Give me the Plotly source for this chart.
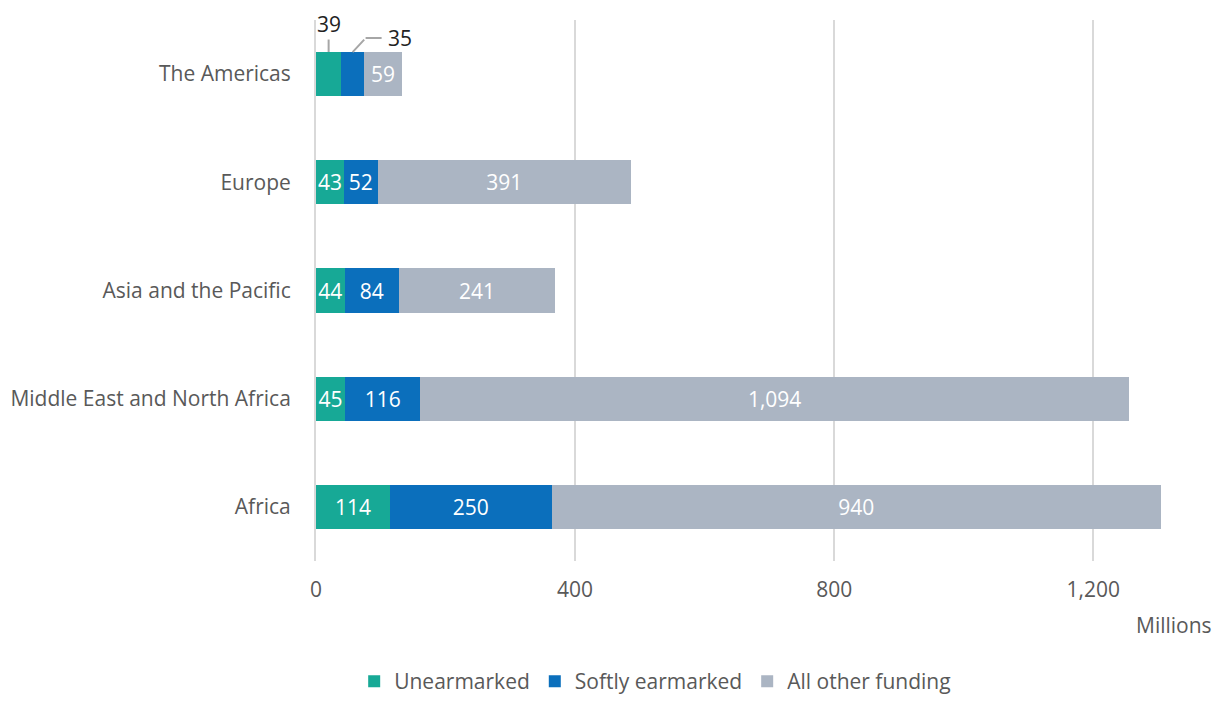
import plotly.graph_objects as go

regions = ["Africa", "Middle East and North Africa", "Asia and the Pacific", "Europe", "The Americas"]
unearmarked = [114, 45, 44, 43, 39]
softly = [250, 116, 84, 52, 35]
other = [940, 1094, 241, 391, 59]
x_ticks = [0, 400, 800, 1200]
x_tick_labels = ["0", "400", "800", "1,200"]

FONT = "Open Sans"
FS = 21
TXT = "#595959"
LEADER = "#a6a6a6"

def inside_labels(vals, skip_last=False):
    out = []
    for i, v in enumerate(vals):
        if skip_last and i == len(vals) - 1:
            out.append("")
        else:
            out.append(f"{v:,}")
    return out

fig = go.Figure()
series = [
    ("Unearmarked", unearmarked, "#17a996", True),
    ("Softly earmarked", softly, "#0b6fbc", True),
    ("All other funding", other, "#abb5c3", False),
]
for name, vals, color, skip in series:
    fig.add_trace(go.Bar(
        y=regions, x=vals, name=name, orientation="h",
        marker=dict(color=color, line=dict(width=0)),
        text=inside_labels(vals, skip), textposition="inside",
        insidetextanchor="middle", textangle=0, constraintext="none",
        insidetextfont=dict(color="white", size=FS, family=FONT),
        hoverinfo="skip",
    ))

# callout for the small Americas "Unearmarked" segment
fig.add_annotation(x=unearmarked[-1] / 2, y=regions[-1], yshift=22,
                   text=str(unearmarked[-1]), showarrow=True, arrowhead=0,
                   arrowwidth=2, arrowcolor=LEADER, ax=0, ay=-28,
                   font=dict(size=FS, family=FONT, color="#222222"))
# elbow callout for the small Americas "Softly earmarked" segment
sx = unearmarked[-1] + softly[-1] / 2
fig.add_annotation(x=sx, y=regions[-1], yshift=22, text="", showarrow=True,
                   arrowhead=0, arrowwidth=2, arrowcolor=LEADER, ax=13, ay=-14)
fig.add_annotation(x=sx, y=regions[-1], yshift=36, xshift=13,
                   text=str(softly[-1]), showarrow=True, arrowhead=0,
                   arrowwidth=2, arrowcolor=LEADER, ax=16, ay=0,
                   xanchor="left", yanchor="middle", borderpad=5,
                   font=dict(size=FS, family=FONT, color="#222222"))

fig.add_annotation(xref="paper", yref="paper", x=1, xshift=17, y=-0.118,
                   xanchor="right", yanchor="middle", showarrow=False,
                   text="Millions", font=dict(size=FS, family=FONT, color=TXT))

fig.update_layout(
    barmode="stack", bargap=0.59,
    width=1216, height=702,
    margin=dict(l=316, r=19, t=20, b=141, autoexpand=False),
    paper_bgcolor="white", plot_bgcolor="white",
    font=dict(family=FONT, size=FS, color=TXT),
    showlegend=True,
    legend=dict(orientation="h", x=0.385, xanchor="center", y=-0.2606, yanchor="bottom",
                font=dict(size=FS, family=FONT, color=TXT), traceorder="normal",
                itemwidth=30),
    xaxis=dict(range=[0, 1360], tickvals=x_ticks, ticktext=x_tick_labels,
               showgrid=True, gridcolor="#d9d9d9", gridwidth=2,
               zeroline=False, showline=False, ticks="", ticklabelstandoff=14,
               tickfont=dict(size=FS, family=FONT, color=TXT)),
    yaxis=dict(categoryorder="array", categoryarray=regions, range=[-0.5, 4.5],
               showgrid=False, autorange=False,
               showline=True, linecolor="#d9d9d9", linewidth=2, ticks="",
               ticklabelstandoff=19, tickfont=dict(size=FS, family=FONT, color=TXT)),
)

fig.write_html("out.html", config={"displayModeBar": False},
               post_script="document.body.style.margin='0';")
